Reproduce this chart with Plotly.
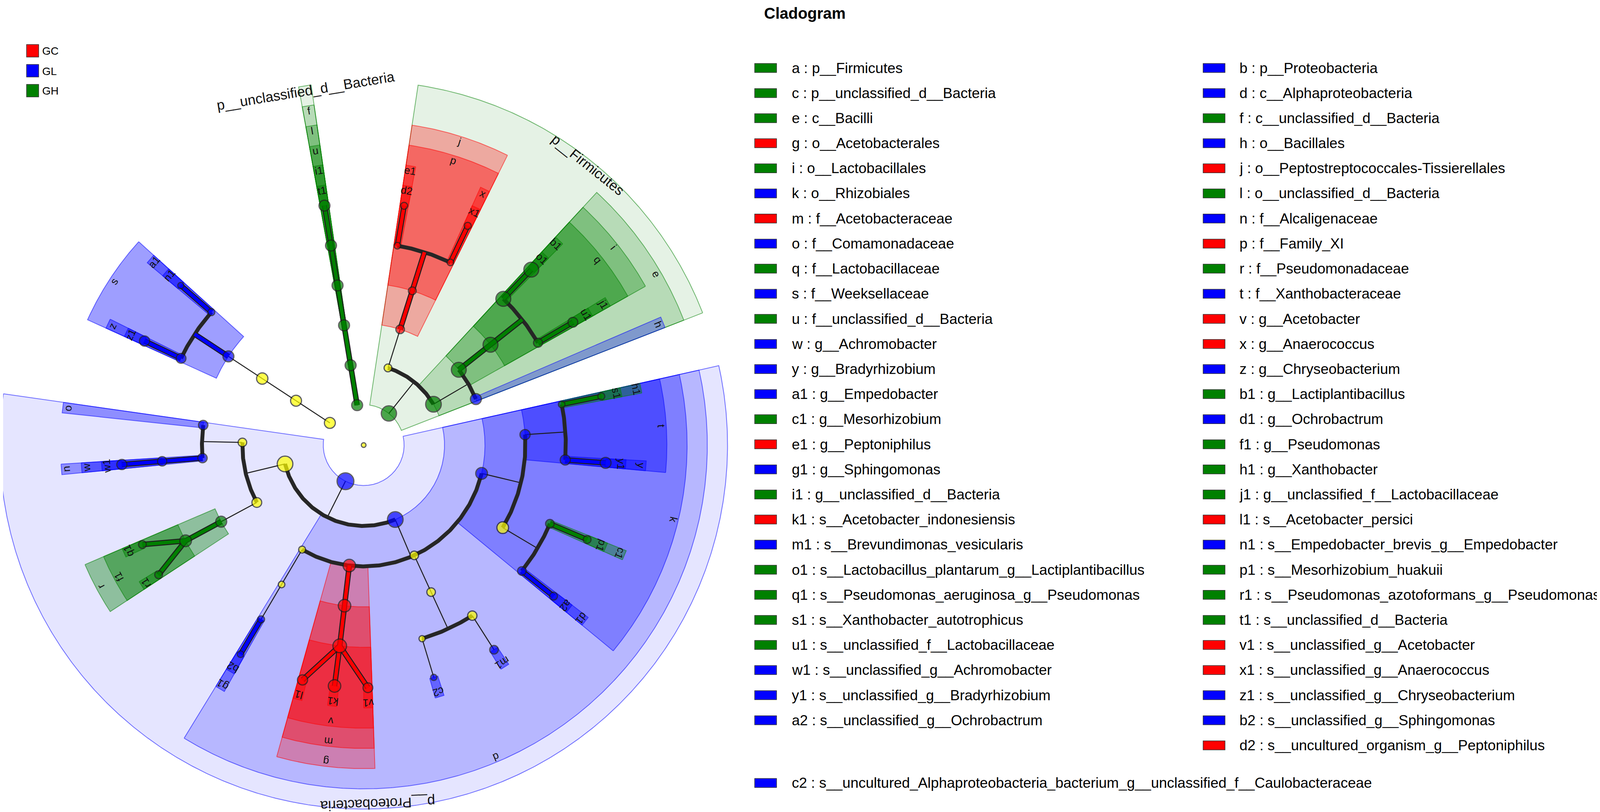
import math
import plotly.graph_objects as go

# ---------------- data ----------------
# discriminant taxa: legend code, taxon, group where it is enriched
legend_code = ["a", "b", "c", "d", "e", "f", "g", "h", "i", "j", "k", "l", "m",
               "n", "o", "p", "q", "r", "s", "t", "u", "v", "w", "x", "y", "z",
               "a1", "b1", "c1", "d1", "e1", "f1", "g1", "h1", "i1", "j1", "k1", "l1", "m1",
               "n1", "o1", "p1", "q1", "r1", "s1", "t1", "u1", "v1", "w1", "x1", "y1", "z1",
               "a2", "b2", "c2", "d2"]
legend_taxon = [
    "p__Firmicutes", "p__Proteobacteria", "p__unclassified_d__Bacteria",
    "c__Alphaproteobacteria", "c__Bacilli", "c__unclassified_d__Bacteria",
    "o__Acetobacterales", "o__Bacillales", "o__Lactobacillales",
    "o__Peptostreptococcales-Tissierellales", "o__Rhizobiales", "o__unclassified_d__Bacteria",
    "f__Acetobacteraceae", "f__Alcaligenaceae", "f__Comamonadaceae", "f__Family_XI",
    "f__Lactobacillaceae", "f__Pseudomonadaceae", "f__Weeksellaceae", "f__Xanthobacteraceae",
    "f__unclassified_d__Bacteria", "g__Acetobacter", "g__Achromobacter", "g__Anaerococcus",
    "g__Bradyrhizobium", "g__Chryseobacterium", "g__Empedobacter", "g__Lactiplantibacillus",
    "g__Mesorhizobium", "g__Ochrobactrum", "g__Peptoniphilus", "g__Pseudomonas",
    "g__Sphingomonas", "g__Xanthobacter", "g__unclassified_d__Bacteria",
    "g__unclassified_f__Lactobacillaceae", "s__Acetobacter_indonesiensis", "s__Acetobacter_persici",
    "s__Brevundimonas_vesicularis", "s__Empedobacter_brevis_g__Empedobacter",
    "s__Lactobacillus_plantarum_g__Lactiplantibacillus", "s__Mesorhizobium_huakuii",
    "s__Pseudomonas_aeruginosa_g__Pseudomonas", "s__Pseudomonas_azotoformans_g__Pseudomonas",
    "s__Xanthobacter_autotrophicus", "s__unclassified_d__Bacteria",
    "s__unclassified_f__Lactobacillaceae", "s__unclassified_g__Acetobacter",
    "s__unclassified_g__Achromobacter", "s__unclassified_g__Anaerococcus",
    "s__unclassified_g__Bradyrhizobium", "s__unclassified_g__Chryseobacterium",
    "s__unclassified_g__Ochrobactrum", "s__unclassified_g__Sphingomonas",
    "s__uncultured_Alphaproteobacteria_bacterium_g__unclassified_f__Caulobacteraceae",
    "s__uncultured_organism_g__Peptoniphilus"]
legend_group = ["GH", "GL", "GH", "GL", "GH", "GH", "GC", "GL", "GH", "GC", "GL", "GH", "GC",
                "GL", "GL", "GC", "GH", "GH", "GL", "GL", "GH", "GC", "GL", "GC", "GL", "GL",
                "GL", "GH", "GH", "GL", "GC", "GH", "GL", "GH", "GH", "GH", "GC", "GC", "GL",
                "GL", "GH", "GH", "GH", "GH", "GH", "GH", "GH", "GC", "GL", "GC", "GL", "GL",
                "GL", "GL", "GL", "GC"]

group_names = ["GC", "GL", "GH"]

# taxonomic tree (depth-first order); non discriminant nodes keep their names
tree_node = ["root",
             "a", "e", "h", "i", "q", "j1", "u1", "b1", "o1",
             "c__Clostridia", "j", "p", "x", "x1", "e1", "d2",
             "c", "f", "l", "u", "i1", "t1",
             "p__Bacteroidota", "c__Bacteroidia", "o__Flavobacteriales", "s", "a1", "n1", "z", "z1",
             "b", "c__Gammaproteobacteria", "o__Burkholderiales", "o", "n", "w", "w1",
             "o__Pseudomonadales", "r", "f1", "q1", "r1",
             "d", "o__Sphingomonadales", "f__Sphingomonadaceae", "g1", "b2",
             "g", "m", "v", "l1", "k1", "v1",
             "o__Caulobacterales", "f__Caulobacteraceae", "g__unclassified_f__Caulobacteraceae", "c2",
             "g__Brevundimonas", "m1",
             "k", "f__Rhizobiaceae", "d1", "a2", "c1", "p1", "t", "y", "y1", "h1", "s1"]
tree_parent = [None,
               "root", "a", "e", "e", "i", "q", "j1", "q", "b1",
               "a", "c__Clostridia", "j", "p", "x", "p", "e1",
               "root", "c", "f", "l", "u", "i1",
               "root", "p__Bacteroidota", "c__Bacteroidia", "o__Flavobacteriales", "s", "a1", "s", "z",
               "root", "b", "c__Gammaproteobacteria", "o__Burkholderiales", "o__Burkholderiales", "n", "w",
               "c__Gammaproteobacteria", "o__Pseudomonadales", "r", "f1", "f1",
               "b", "d", "o__Sphingomonadales", "f__Sphingomonadaceae", "g1",
               "d", "g", "m", "v", "v", "v",
               "d", "o__Caulobacterales", "f__Caulobacteraceae", "g__unclassified_f__Caulobacteraceae",
               "f__Caulobacteraceae", "g__Brevundimonas",
               "d", "k", "f__Rhizobiaceae", "d1", "f__Rhizobiaceae", "c1", "k", "t", "y", "t", "h1"]
# node size score (abundance)
node_abundance = [1.2,
                  3.9, 4.0, 2.8, 3.8, 3.8, 2.3, 2.5, 3.8, 3.8,
                  2.0, 2.2, 2.0, 1.7, 1.8, 1.7, 1.8,
                  2.8, 2.8, 2.8, 2.8, 2.8, 2.8,
                  2.8, 2.8, 2.9, 2.8, 1.8, 1.6, 2.5, 2.6,
                  4.3, 4.0, 2.2, 2.4, 2.4, 2.4, 2.6,
                  2.5, 2.8, 3.0, 2.0, 2.0,
                  4.0, 1.8, 1.7, 1.8, 1.7,
                  3.2, 3.2, 3.5, 2.6, 3.2, 2.5,
                  2.2, 2.2, 1.6, 1.6, 2.4, 2.2,
                  3.0, 3.0, 2.2, 2.0, 2.2, 2.0, 2.6, 2.6, 2.8, 1.7, 1.8]

# angular spacing of the terminal taxa (degrees, counter-clockwise)
leaf_first_angle = 22.3
leaf_gap = [8.1, 15.9, 18.3, 15.8, 18.9, 39.6, 15.7, 18.3, 11.7, 19.6, 8.1,
            27.2, 15.9, 7.7, 7.9, 15.8, 15.7, 19.0, 15.6, 18.7, 15.8]

# ---------------- layout constants ----------------
W, H = 4212, 2078
OFF = 8            # default body margin of the html page
CX, CY = 931, 1139 # centre of the cladogram in page pixels
S = 103.5          # pixels per taxonomic level
FONT = "Liberation Sans, Arial, sans-serif"
RGB = {"GC": (255, 0, 0), "GL": (0, 0, 255), "GH": (0, 128, 0)}
HEX = {"GC": "#ff0000", "GL": "#0000ff", "GH": "#008000"}
ALPHA = {1: 0.10, 2: 0.20, 3: 0.30, 4: 0.38, 5: 0.40, 6: 0.45}
MAXLEV = 6

group_of = dict(zip(legend_code, legend_group))
taxon_of = dict(zip(legend_code, legend_taxon))

children = {n: [] for n in tree_node}
level = {}
for n, p in zip(tree_node, tree_parent):
    if p is None:
        level[n] = 0
    else:
        children[p].append(n)
        level[n] = level[p] + 1
size_of = dict(zip(tree_node, node_abundance))

# angles
ang, lo, hi = {}, {}, {}
a = leaf_first_angle
k = 0
for n in tree_node:
    if not children[n]:
        if k > 0:
            a += leaf_gap[k - 1]
        ang[n] = lo[n] = hi[n] = a
        k += 1
for n in reversed(tree_node):
    if children[n]:
        ca = [ang[c] for c in children[n]]
        ang[n] = (min(ca) + max(ca)) / 2
        lo[n] = min(lo[c] for c in children[n])
        hi[n] = max(hi[c] for c in children[n])


def xy(r, deg):
    t = math.radians(deg)
    return r * math.cos(t), r * math.sin(t)


def arc(r, a0, a1, step=0.4):
    n = max(2, int(abs(a1 - a0) / step) + 1)
    return [xy(r, a0 + (a1 - a0) * i / (n - 1)) for i in range(n)]


def rgba(g, al):
    r, gg, b = RGB[g]
    return f"rgba({r},{gg},{b},{al})"


fig = go.Figure()

# ---------------- highlighted clades ----------------
sig = [n for n in tree_node if n in group_of]
for n in sorted(sig, key=lambda q: level[q]):
    lv = level[n]
    r0, r1 = lv, 9.5 - 0.5 * lv
    a0, a1 = lo[n] - 1.0, hi[n] + 1.0
    pts = arc(r1, a0, a1) + arc(r0, a1, a0)
    pts.append(pts[0])
    g = group_of[n]
    fig.add_trace(go.Scatter(x=[p[0] for p in pts], y=[p[1] for p in pts], mode="lines",
                             fill="toself", fillcolor=rgba(g, ALPHA[lv]),
                             line=dict(color=rgba(g, 0.55), width=2),
                             hoverinfo="skip", showlegend=False))

# ---------------- branches ----------------
thin = ([], [])
bracket = ([], [])
colored = {g: ([], []) for g in group_names}


def add(store, pts):
    for p in pts:
        store[0].append(p[0])
        store[1].append(p[1])
    store[0].append(None)
    store[1].append(None)


def branch_group(p, kids):
    if p in group_of and all(group_of.get(c) == group_of[p] for c in kids):
        return group_of[p]
    return None


for n in tree_node:
    kids = children[n]
    if not kids or level[n] == 0:
        continue
    lv = level[n]
    if lv + 1 == MAXLEV:
        for c in kids:
            pts = [xy(lv, ang[n]), xy(lv + 1, ang[c])]
            g = branch_group(n, [c])
            add(colored[g] if g else thin, pts)
    else:
        pts = [xy(lv, ang[n]), xy(lv + 1, ang[n])]
        g = branch_group(n, kids)
        add(colored[g] if g else thin, pts)
        if len(kids) > 1:
            ca = [ang[c] for c in kids]
            add(bracket, arc(lv + 1, min(ca), max(ca)))

fig.add_trace(go.Scatter(x=thin[0], y=thin[1], mode="lines",
                         line=dict(color="#1e1e1e", width=2.5), hoverinfo="skip", showlegend=False))
fig.add_trace(go.Scatter(x=bracket[0], y=bracket[1], mode="lines",
                         line=dict(color="#262626", width=10), hoverinfo="skip", showlegend=False))
for g in group_names:
    if colored[g][0]:
        fig.add_trace(go.Scatter(x=colored[g][0], y=colored[g][1], mode="lines",
                                 line=dict(color="#1e1e1e", width=14), hoverinfo="skip", showlegend=False))
        fig.add_trace(go.Scatter(x=colored[g][0], y=colored[g][1], mode="lines",
                                 line=dict(color=HEX[g], width=9), hoverinfo="skip", showlegend=False))

# ---------------- nodes ----------------
nx, ny, ns, nc = [], [], [], []
for n in tree_node:
    x, y = xy(level[n], ang[n]) if level[n] else (0.0, 0.0)
    nx.append(x)
    ny.append(y)
    ns.append(10 * size_of[n])
    nc.append(HEX[group_of[n]] if n in group_of else "#ffff00")
fig.add_trace(go.Scatter(x=nx, y=ny, mode="markers",
                         marker=dict(size=ns, color=nc, line=dict(color="#1e1e1e", width=3)),
                         hoverinfo="skip", showlegend=False))

# ---------------- clade labels ----------------
annotations = []


def textangle(deg):
    t = 90 - deg
    while t > 180:
        t -= 360
    while t <= -180:
        t += 360
    return t


for n in sig:
    lv = level[n]
    if lv == 1:
        r, a, txt, fs = 8.875, (lo[n] + hi[n]) / 2, taxon_of[n], 36
    else:
        r, a, txt, fs = 9.5 - 0.5 * lv - 0.125, ang[n], n, 27
    x, y = xy(r, a)
    annotations.append(dict(x=x, y=y, xref="x", yref="y", text=txt, showarrow=False,
                            textangle=textangle(a), font=dict(family=FONT, size=fs, color="#111111"),
                            xanchor="center", yanchor="middle"))

# ---------------- keys (page pixel positions) ----------------
shapes = []


def px(X, Y):
    return (X - OFF) / W, 1 - (Y - OFF) / H


def box(x0, y0, x1, y1, color):
    a0, b0 = px(x0, y0)
    a1, b1 = px(x1, y1)
    shapes.append(dict(type="rect", xref="paper", yref="paper", x0=a0, y0=b1, x1=a1, y1=b0,
                       fillcolor=color, line=dict(color="#333333", width=1.5), layer="above"))


def label(X, Y, txt, size, anchor="left"):
    a, b = px(X, Y)
    annotations.append(dict(x=a, y=b, xref="paper", yref="paper", text=txt, showarrow=False,
                            xanchor=anchor, yanchor="middle",
                            font=dict(family=FONT, size=size, color="#000000")))


# group key (top left)
for i, g in enumerate(group_names):
    yc = 130 + 51 * i
    box(68, yc - 16, 99, yc + 16, HEX[g])
    label(106, yc + 1, g, 28)

# taxa key (right)
label(1954, 34, "<b>Cladogram</b>", 40)
col_sq = [1932, 3080]
col_tx = [2025, 3171]
overflow = []
for i, (c, t, g) in enumerate(zip(legend_code, legend_taxon, legend_group)):
    txt = f"{c} : {t}"
    col, row = i % 2, i // 2
    if len(txt) > 60:
        overflow.append((txt, g))
        continue
    yc = 174 + 64.2 * row
    box(col_sq[col], yc - 11.5, col_sq[col] + 56, yc + 11.5, HEX[g])
    label(col_tx[col], yc, txt, 37)
last_row = (len(legend_code) - 1) // 2
for j, (txt, g) in enumerate(overflow):
    yc = 174 + 64.2 * (last_row + 1.5 + j)
    box(col_sq[0], yc - 11.5, col_sq[0] + 56, yc + 11.5, HEX[g])
    label(col_tx[0], yc, txt, 37)

fig.update_layout(
    width=W, height=H,
    margin=dict(l=0, r=0, t=0, b=0),
    paper_bgcolor="white", plot_bgcolor="white",
    xaxis=dict(range=[(OFF - CX) / S, (OFF + W - CX) / S], visible=False, fixedrange=True),
    yaxis=dict(range=[(CY - OFF - H) / S, (CY - OFF) / S], visible=False, fixedrange=True),
    annotations=annotations, shapes=shapes,
    showlegend=False, hovermode=False,
)

fig.write_html("out.html")
